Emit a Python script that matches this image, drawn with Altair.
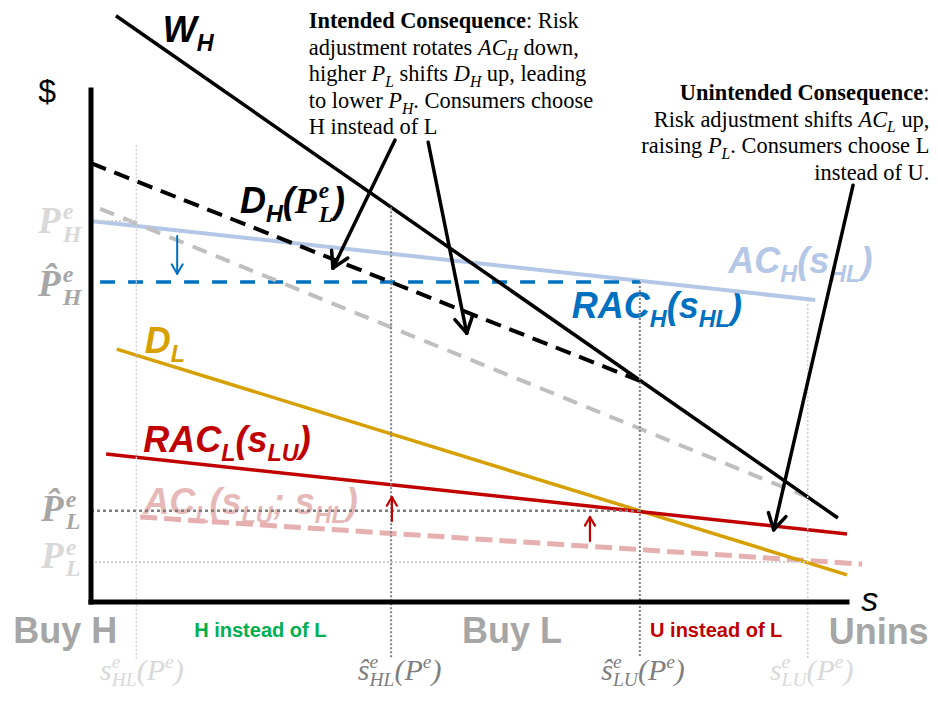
import math
import altair as alt
import pandas as pd

# ------------------------------------------------------------------
# DATA (s = share along horizontal axis, p = price / $ on vertical axis)
# ------------------------------------------------------------------
curve_names = ["W_H", "D_H_new", "D_H_old", "AC_H", "RAC_H", "D_L", "RAC_L", "AC_L"]
s_from = [0.33, 0.00, 0.12, 0.00, 0.12, 0.34, 0.20, 0.65]
p_from = [11.45, 8.57, 7.68, 7.44, 6.25, 4.94, 2.89, 1.66]
s_to = [9.88, 7.26, 9.48, 9.58, 7.26, 10.00, 10.00, 10.20]
p_to = [1.64, 4.32, 2.05, 5.90, 6.25, 0.53, 1.33, 0.74]

# marginal consumers (vertical guides)
cut_names = ["s_HL", "s_HL_hat", "s_LU_hat", "s_LU"]
cut_s = [0.60, 3.97, 7.26, 9.48]
cut_top = [8.93, 7.71, 6.25, 5.90]
cut_bottom = [-1.10, -1.08, -1.08, -1.10]

# equilibrium prices (horizontal guides)
price_names = ["P_H", "P_L_hat", "P_L"]
price_p = [7.44, 1.78, 0.78]
price_s_end = [0.60, 7.26, 9.48]

# arrows (tail -> head)
arrow_names = ["AC_H_down", "AC_L_up_1", "AC_L_up_2", "intended_1", "intended_2", "unintended"]
arrow_s0 = [1.14, 3.98, 6.60, 4.02, 4.46, 10.08]
arrow_p0 = [7.15, 1.58, 1.19, 9.02, 8.98, 8.14]
arrow_s1 = [1.14, 3.98, 6.60, 3.20, 4.97, 9.03]
arrow_p1 = [6.41, 2.05, 1.66, 6.52, 5.25, 1.41]

axis_s_max = 10.0
axis_p_max = 10.0

# ------------------------------------------------------------------
# LAYOUT
# ------------------------------------------------------------------
W, H = 922, 683
PXS, PXP = 75.6, 51.2          # pixels per unit
OX, OY = 83, 594               # origin inside plot area (pixels)
XMIN, XMAX = -OX / PXS, (W - OX) / PXS
YMIN, YMAX = -(H - OY) / PXP, OY / PXP
XS = alt.Scale(domain=[XMIN, XMAX], nice=False, zero=False)
YS = alt.Scale(domain=[YMIN, YMAX], nice=False, zero=False)

BLACK = "#000000"
GREY = "#a6a6a6"
LIGHT = "#d9d9d9"
DARK = "#7f7f7f"
BLUE = "#0070c0"
LBLUE = "#b4c7e7"
RED = "#c00000"
PINK = "#e6b0b0"
GOLD = "#d6a100"
GREEN = "#00b050"


def rules(rows, color, width, dash=None, cap="butt"):
    df = pd.DataFrame(rows, columns=["x", "y", "x2", "y2"])
    kw = dict(color=color, strokeWidth=width, strokeCap=cap)
    if dash:
        kw["strokeDash"] = dash
    return alt.Chart(df).mark_rule(**kw).encode(
        x=alt.X("x:Q", scale=XS, axis=None),
        y=alt.Y("y:Q", scale=YS, axis=None),
        x2="x2:Q",
        y2="y2:Q",
    )


# ---------------- font metrics (per 1000 em) ----------------
SANS_B = {" ": 278, "(": 333, ")": 333, ";": 333, "A": 722, "B": 722, "C": 722, "D": 722,
          "H": 722, "L": 611, "R": 722, "U": 722, "W": 944, "s": 556, "u": 611, "y": 556,
          "i": 278, "n": 611, "t": 333, "e": 556, "a": 556, "d": 611, "o": 611, "f": 333}
TIMES = {" ": 250, "(": 333, ")": 333, ",": 250, ".": 250, ":": 278, ";": 278,
         "A": 722, "C": 667, "D": 722, "H": 722, "I": 333, "L": 611, "P": 556, "R": 667,
         "U": 722, "a": 444, "b": 500, "c": 444, "d": 500, "e": 444, "f": 333, "g": 500,
         "h": 500, "i": 278, "j": 278, "k": 500, "l": 278, "m": 778, "n": 500, "o": 500,
         "p": 500, "q": 500, "r": 333, "s": 389, "t": 278, "u": 500, "v": 500, "w": 722,
         "x": 500, "y": 500, "z": 444}
TIMES_B = {" ": 250, ":": 333, "C": 722, "I": 389, "U": 722, "a": 500, "c": 444, "d": 556,
           "e": 444, "i": 278, "n": 556, "o": 500, "q": 556, "s": 389, "t": 333, "u": 556}
TIMES_I = {" ": 250, "(": 333, ")": 333, "A": 611, "C": 667, "D": 722, "H": 722, "L": 556,
           "P": 611, "U": 722, "s": 389, "\u015d": 389, "e": 444}
TIMES_BI = {"P": 667, "H": 778, "L": 611, "e": 444, "s": 389, "\u0302": 0}

FONTS = {
    "SBI": ("Liberation Sans", "italic", "bold", SANS_B),
    "SB": ("Liberation Sans", "normal", "bold", SANS_B),
    "T": ("Liberation Serif", "normal", "normal", TIMES),
    "TB": ("Liberation Serif", "normal", "bold", TIMES_B),
    "TI": ("Liberation Serif", "italic", "normal", TIMES_I),
    "TBI": ("Liberation Serif", "italic", "bold", TIMES_BI),
}


def tw(text, font, size):
    table = FONTS[font][3]
    return sum(table.get(ch, 500) for ch in text) * size / 1000.0


RUNS = []


def rich(s, p, segs, size, color, align="left", ratio=0.65, sub_dy=0.25, sup_dy=0.42):
    items = []
    cur = 0.0
    for text, font, role in segs:
        if role == "n":
            items.append((text, font, size, cur, 0.0))
            cur += tw(text, font, size)
        elif role == "sub":
            sz = size * ratio
            items.append((text, font, sz, cur, size * sub_dy))
            cur += tw(text, font, sz)
        elif role == "sup":
            sz = size * ratio
            items.append((text, font, sz, cur, -size * sup_dy))
            cur += tw(text, font, sz)
        elif role == "ss":
            a, b = text.split("|")
            sz = size * ratio
            items.append((a, font, sz, cur, -size * sup_dy))
            items.append((b, font, sz, cur, size * sub_dy))
            cur += max(tw(a, font, sz), tw(b, font, sz))
    off = {"left": 0.0, "center": -cur / 2.0, "right": -cur}[align]
    for text, font, sz, dx, dy in items:
        lead = len(text) - len(text.lstrip(" "))
        if lead:
            dx += tw(" " * lead, font, sz)
            text = text.lstrip(" ")
        RUNS.append(dict(x=s + (dx + off) / PXS, y=p - dy / PXP, text=text.rstrip(" "),
                         font=font, size=round(sz, 2), color=color))


# ---------------- big curve labels ----------------
BIG = 36
rich(0.95, 10.94, [("W", "SBI", "n"), ("H", "SBI", "sub")], BIG, BLACK)
rich(1.97, 7.60, [("D", "SBI", "n"), ("H", "SBI", "sub"), ("(", "SBI", "n"),
                  ("P", "TBI", "n"), ("e|L", "TBI", "ss"), (")", "SBI", "n")], BIG, BLACK)
rich(8.43, 6.43, [("AC", "SBI", "n"), ("H", "SBI", "sub"), ("(", "SBI", "n"), ("s", "SBI", "n"),
                  ("HL", "SBI", "sub"), (")", "SBI", "n")], BIG, LBLUE)
rich(6.36, 5.55, [("RAC", "SBI", "n"), ("H", "SBI", "sub"), ("(", "SBI", "n"), ("s", "SBI", "n"),
                  ("HL", "SBI", "sub"), (")", "SBI", "n")], BIG, BLUE)
rich(0.71, 4.86, [("D", "SBI", "n"), ("L", "SBI", "sub")], BIG, GOLD)
rich(0.69, 2.93, [("RAC", "SBI", "n"), ("L", "SBI", "sub"), ("(", "SBI", "n"), ("s", "SBI", "n"),
                  ("LU", "SBI", "sub"), (")", "SBI", "n")], BIG, RED)
rich(0.69, 1.72, [("AC", "SBI", "n"), ("L", "SBI", "sub"), ("(", "SBI", "n"), ("s", "SBI", "n"),
                  ("LU", "SBI", "sub"), ("; ", "SBI", "n"), ("s", "SBI", "n"),
                  ("HL", "SBI", "sub"), (")", "SBI", "n")], BIG, "#e6b8b7")

# ---------------- price labels on the $ axis ----------------
PL = 37
rich(-0.70, 7.21, [("P", "TBI", "n"), ("e|H", "TBI", "ss")], PL, LIGHT, sub_dy=0.24, sup_dy=0.38)
rich(-0.70, 5.98, [("P\u0302", "TBI", "n"), ("e|H", "TBI", "ss")], PL, GREY, sub_dy=0.24, sup_dy=0.38)
rich(-0.66, 1.58, [("P\u0302", "TBI", "n"), ("e|L", "TBI", "ss")], PL, GREY, sub_dy=0.22, sup_dy=0.38)
rich(-0.66, 0.66, [("P", "TBI", "n"), ("e|L", "TBI", "ss")], PL, LIGHT, sub_dy=0.22, sup_dy=0.36)

# ---------------- axis titles ----------------
DOLLAR = dict(x=-0.58, y=9.77, text="$")
S_LABEL = dict(x=10.19, y=-0.17, text="s")

# ---------------- region labels ----------------
rich(-0.34, -0.80, [("Buy H", "SB", "n")], 36, GREY, align="center")
rich(2.24, -0.68, [("H instead of L", "SB", "n")], 20, GREEN, align="center")
rich(5.57, -0.80, [("Buy L", "SB", "n")], 36, GREY, align="center")
rich(8.27, -0.68, [("U instead of L", "SB", "n")], 20, RED, align="center")
rich(11.08, -0.82, [("Unins", "SB", "n")], 36, GREY, align="right")

# ---------------- cutoff labels ----------------
ML = 30
for s0, hat, sub, col in [(0.12, "s", "HL", LIGHT), (3.53, "\u015d", "HL", DARK),
                          (6.75, "\u015d", "LU", DARK), (8.98, "s", "LU", LIGHT)]:
    rich(s0, -1.52, [(hat, "TI", "n"), ("e|" + sub, "TI", "ss"), ("(", "TI", "n"),
                     ("P", "TI", "n"), ("e", "TI", "sup"), (")", "TI", "n")], ML, col,
         sub_dy=0.19, sup_dy=0.40)

# ---------------- annotations ----------------
AN = 22.4
intended = [
    [("Intended Consequence", "TB", "n"), (": Risk", "T", "n")],
    [("adjustment rotates ", "T", "n"), ("AC", "TI", "n"), ("H", "TI", "sub"), (" down,", "T", "n")],
    [("higher ", "T", "n"), ("P", "TI", "n"), ("L", "TI", "sub"), (" shifts ", "T", "n"),
     ("D", "TI", "n"), ("H", "TI", "sub"), (" up, leading", "T", "n")],
    [("to lower ", "T", "n"), ("P", "TI", "n"), ("H", "TI", "sub"), (". Consumers choose", "T", "n")],
    [("H instead of L", "T", "n")],
]
for line, pp in zip(intended, [11.22, 10.69, 10.17, 9.65, 9.14]):
    rich(2.88, pp, line, AN, BLACK, ratio=0.7)

unintended = [
    [("Unintended Consequence", "TB", "n"), (":", "T", "n")],
    [("Risk adjustment shifts ", "T", "n"), ("AC", "TI", "n"), ("L", "TI", "sub"), (" up,", "T", "n")],
    [("raising ", "T", "n"), ("P", "TI", "n"), ("L", "TI", "sub"), (". Consumers choose L", "T", "n")],
    [("instead of U.", "T", "n")],
]
for line, pp in zip(unintended, [9.80, 9.28, 8.77, 8.24]):
    rich(11.09, pp, line, AN, BLACK, align="right", ratio=0.7)

runs_df = pd.DataFrame(RUNS)
text_layers = []
for (font, size, color), g in runs_df.groupby(["font", "size", "color"], sort=False):
    fam, style, weight, _ = FONTS[font]
    text_layers.append(
        alt.Chart(g[["x", "y", "text"]].reset_index(drop=True)).mark_text(
            font=fam, fontStyle=style, fontWeight=weight, fontSize=size, color=color,
            align="left", baseline="alphabetic",
        ).encode(x=alt.X("x:Q", scale=XS, axis=None), y=alt.Y("y:Q", scale=YS, axis=None), text="text:N")
    )

text_layers.append(
    alt.Chart(pd.DataFrame([DOLLAR])).mark_text(font="Liberation Sans", fontSize=32, color=BLACK,
                                               align="center", baseline="alphabetic")
    .encode(x=alt.X("x:Q", scale=XS, axis=None), y=alt.Y("y:Q", scale=YS, axis=None), text="text:N"))
text_layers.append(
    alt.Chart(pd.DataFrame([S_LABEL])).mark_text(font="Liberation Sans", fontStyle="italic", fontSize=34,
                                                 color=BLACK, align="left", baseline="alphabetic")
    .encode(x=alt.X("x:Q", scale=XS, axis=None), y=alt.Y("y:Q", scale=YS, axis=None), text="text:N"))

# ---------------- curves ----------------
CURVE_STYLE = {
    "AC_H": (LBLUE, 4, None),
    "RAC_H": (BLUE, 3.5, [15, 13]),
    "D_H_old": ("#bfbfbf", 4, [15, 10]),
    "D_H_new": (BLACK, 4, [16, 9]),
    "W_H": (BLACK, 3.5, None),
    "AC_L": (PINK, 5, [17, 7]),
    "D_L": (GOLD, 3.5, None),
    "RAC_L": (RED, 3.5, None),
}
idx = {n: i for i, n in enumerate(curve_names)}
curve_layers = []
for name in ["AC_H", "RAC_H", "D_H_old", "D_H_new", "W_H", "AC_L", "D_L", "RAC_L"]:
    i = idx[name]
    col, wd, dash = CURVE_STYLE[name]
    curve_layers.append(rules([(s_from[i], p_from[i], s_to[i], p_to[i])], col, wd, dash))

# ---------------- guides ----------------
guide_layers = []
light_rows, dark_rows = [], []
for n, s, t, b in zip(cut_names, cut_s, cut_top, cut_bottom):
    (dark_rows if "hat" in n else light_rows).append((s, t, s, b))
light_h, dark_h = [], []
for n, p, se in zip(price_names, price_p, price_s_end):
    (dark_h if "hat" in n else light_h).append((0, p, se, p))
guide_layers.append(rules(light_rows, "#cfcfcf", 1.5, [2, 2]))
guide_layers.append(rules(light_h, "#cfcfcf", 2, [2, 2]))
guide_layers.append(rules(dark_rows, DARK, 2, [2, 2]))
guide_layers.append(rules(dark_h, DARK, 2.5, [3, 3]))


# ---------------- arrows ----------------
def arrow_rows(s0, p0, s1, p1, head, ang=30):
    dx, dy = (s1 - s0) * PXS, (p1 - p0) * PXP
    L = math.hypot(dx, dy)
    ux, uy = dx / L, dy / L
    out = [(s0, p0, s1, p1)]
    for sg in (1, -1):
        a = math.radians(ang) * sg
        bx = -ux * math.cos(a) + uy * math.sin(a)
        by = -ux * math.sin(a) - uy * math.cos(a)
        out.append((s1, p1, s1 + bx * head / PXS, p1 + by * head / PXP))
    return out


ARROW_STYLE = {
    "AC_H_down": (BLUE, 2, 11),
    "AC_L_up_1": (RED, 2.2, 10),
    "AC_L_up_2": (RED, 2.2, 10),
    "intended_1": (BLACK, 3.5, 18),
    "intended_2": (BLACK, 3.5, 18),
    "unintended": (BLACK, 3.5, 18),
}
arrow_layers = []
for n, a0, b0, a1, b1 in zip(arrow_names, arrow_s0, arrow_p0, arrow_s1, arrow_p1):
    col, wd, hd = ARROW_STYLE[n]
    arrow_layers.append(rules(arrow_rows(a0, b0, a1, b1, hd), col, wd, None, cap="round"))

# ---------------- axes ----------------
axis_layer = rules([(0, 0, 0, axis_p_max), (0, 0, axis_s_max, 0)], BLACK, 5, None, cap="square")

chart = alt.layer(*text_layers, *curve_layers, *guide_layers, *arrow_layers, axis_layer).properties(
    width=W, height=H, padding=0, autosize="none", background="white"
).configure_view(stroke=None)

chart.save("out.html", embed_options={"renderer": "svg", "actions": False})
